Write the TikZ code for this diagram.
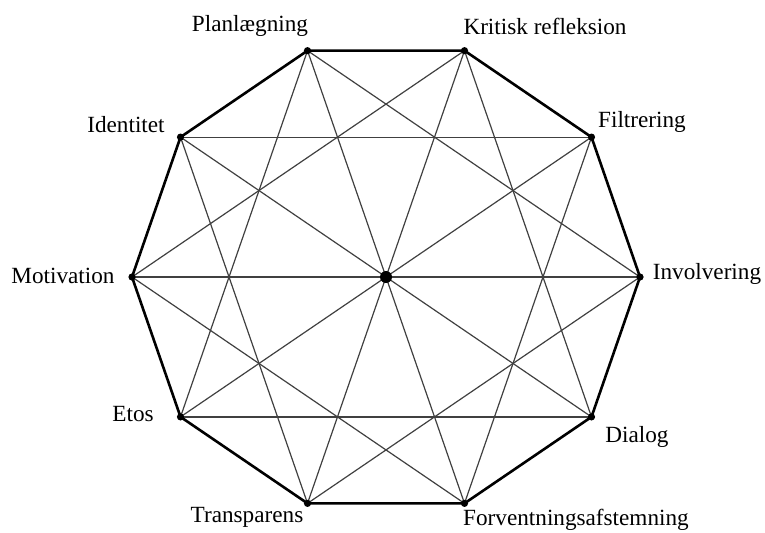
\documentclass[tikz,border=0pt]{standalone}
\usepackage{fontspec}
\setmainfont{Liberation Serif}
\begin{document}
\begin{tikzpicture}[x=0.5pt,y=-0.5pt,
  thinline/.style={draw=black!75,line width=0.6pt},
  rimline/.style={draw=black,line width=1.3pt,line join=round},
  vdot/.style={circle,fill=black,inner sep=0pt,minimum size=3.6pt},
  cdot/.style={circle,fill=black,inner sep=0pt,minimum size=6pt},
  lbl/.style={font=\fontsize{11.6pt}{13pt}\selectfont,inner sep=0pt}]
\useasboundingbox (0,0) rectangle (765,532);
\foreach \k in {0,...,9}{
  \coordinate (v\k) at ({386+254*cos(36*\k)},{277-238*sin(36*\k)});
}
\coordinate (c) at (386,277);
% step-3 chords
\foreach \k in {0,...,9}{
  \pgfmathtruncatemacro{\j}{mod(\k+3,10)}
  \draw[thinline] (v\k) -- (v\j);
}
% diameters
\foreach \k in {0,...,4}{
  \pgfmathtruncatemacro{\j}{\k+5}
  \draw[thinline] (v\k) -- (v\j);
}
% rim
\draw[rimline] (v0) -- (v1) -- (v2) -- (v3) -- (v4) -- (v5) -- (v6) -- (v7) -- (v8) -- (v9) -- cycle;
\foreach \k in {0,...,9}{ \node[vdot] (d\k) at (v\k) {}; }
\node[cdot] (center) at (c) {};
% labels
\node[lbl] (l0) at (707,274) {Involvering};
\node[lbl] (l1) at (642,122) {Filtrering};
\node[lbl] (l2) at (545,26) {Kritisk refleksion};
\node[lbl] (l3) at (250,26) {Planlægning};
\node[lbl] (l4) at (126,125) {Identitet};
\node[lbl] (l5) at (63,276) {Motivation};
\node[lbl] (l6) at (133,414) {Etos};
\node[lbl] (l7) at (247,517) {Transparens};
\node[lbl] (l8) at (576,520) {Forventningsafstemning};
\node[lbl] (l9) at (637,437) {Dialog};
\end{tikzpicture}
\end{document}
